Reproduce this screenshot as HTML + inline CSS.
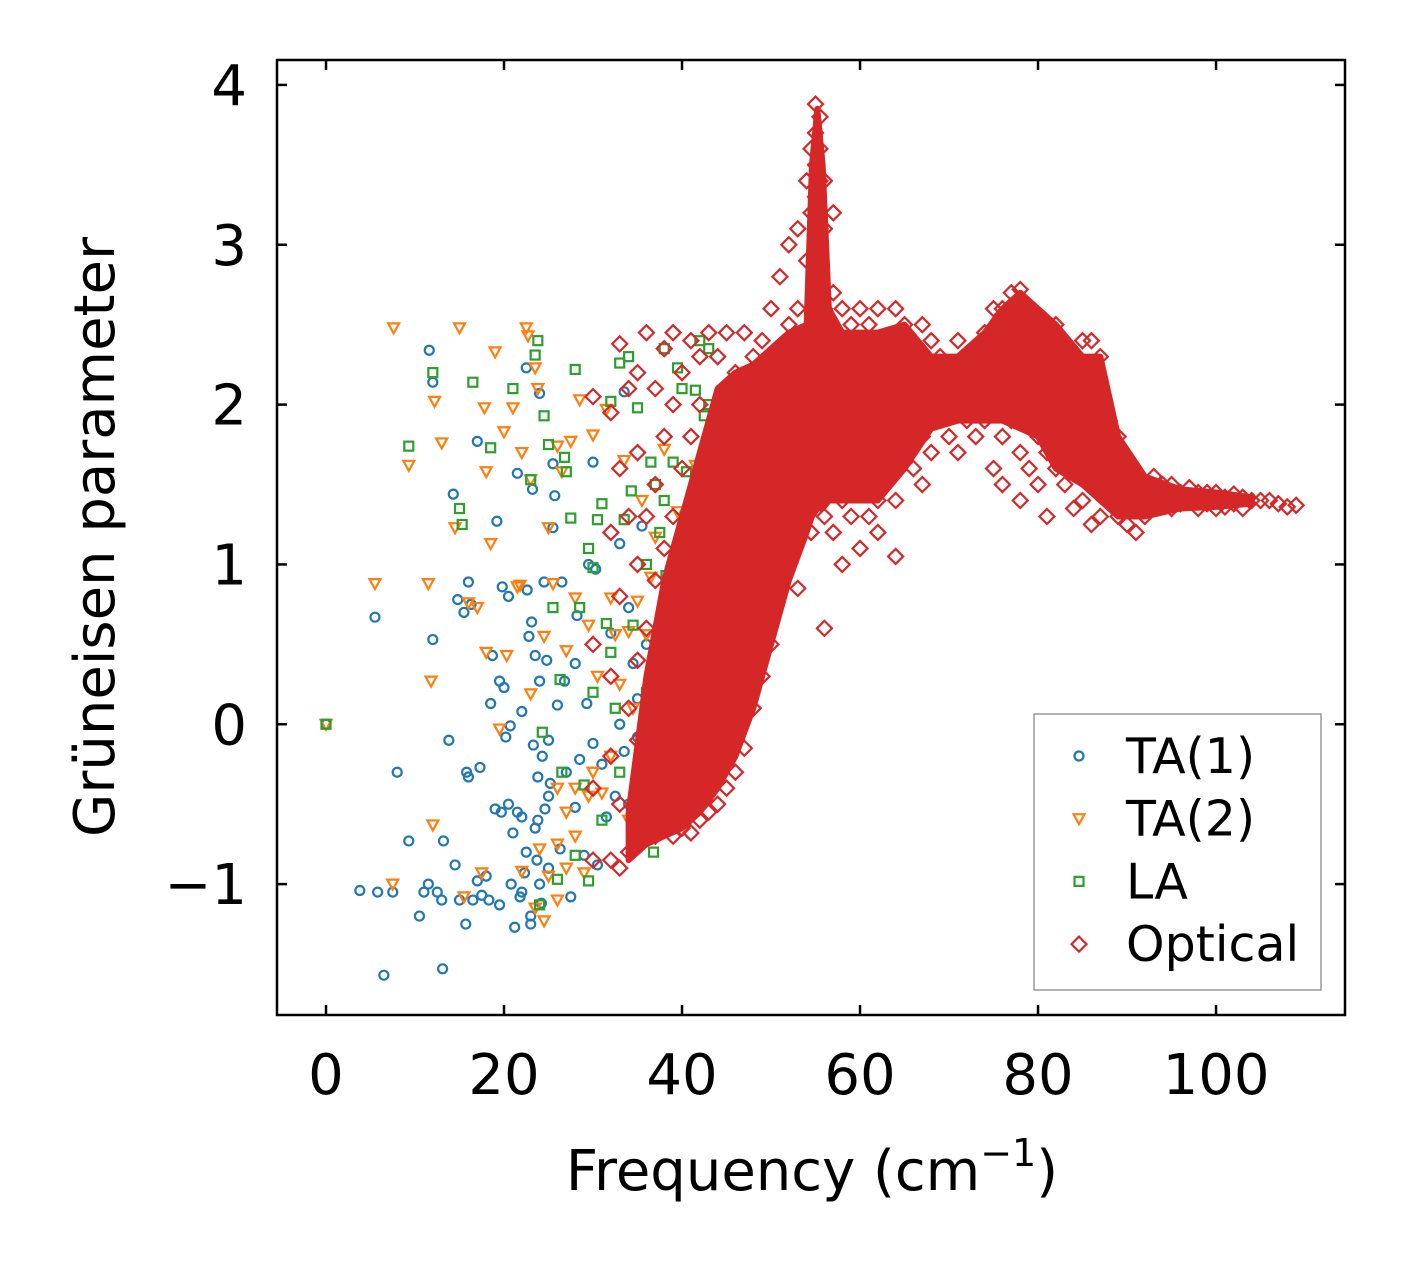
<!DOCTYPE html>
<html><head><meta charset="utf-8"><style>
html,body{margin:0;padding:0;background:#fff;}
svg{display:block;font-family:"DejaVu Sans","Liberation Sans",sans-serif;}
</style></head><body>
<svg id="chart" width="1406" height="1264" viewBox="0 0 1406 1264" xmlns="http://www.w3.org/2000/svg">
<rect width="1406" height="1264" fill="#fff"/>
<g id="marks"></g>
<rect x="277" y="60" width="1068" height="955" fill="none" stroke="#000" stroke-width="2.5"/>
<g id="axes"></g>
<text x="812" y="1190" font-size="56" text-anchor="middle">Frequency (cm<tspan font-size="38" dy="-24">−1</tspan><tspan dy="24">)</tspan></text>
<text transform="translate(114,537) rotate(-90)" font-size="56" text-anchor="middle">Grüneisen parameter</text>
<g>
<rect x="1034" y="714" width="287" height="276" fill="#fff" fill-opacity="0.8" stroke="#999" stroke-width="1.5"/>
<g id="legend-items"></g>
</g>
</svg>
<script>
const xTicks=[0,20,40,60,80,100];
const yTicks=[-1,0,1,2,3,4];
const yTickLabels=["−1","0","1","2","3","4"];
const seriesNames=["TA(1)","TA(2)","LA","Optical"];
const ta1=[[0,0],[3.8,-1.04],[5.8,-1.05],[6.5,-1.57],[5.5,0.67],[7.5,-1.05],[8,-0.3],[9.3,-0.73],[10.5,-1.2],[11,-1.05],[11.5,-1.0],[11.6,2.34],[12,2.14],[12,0.53],[12.5,-1.05],[13,-1.1],[13.1,-1.53],[13.2,-0.73],[13.8,-0.1],[14.3,1.44],[14.5,-0.88],[14.8,0.78],[15,-1.1],[15.5,0.7],[15.7,-1.25],[15.8,-0.3],[16,0.89],[16.3,0.75],[16,-0.33],[16.5,-1.1],[17,1.77],[17,-0.98],[17.3,-0.27],[17.5,-1.07],[18,-0.95],[18.3,-1.1],[18.5,0.13],[18.7,0.43],[19,-0.53],[19.2,1.27],[19.5,-1.13],[19.5,0.27],[19.7,-0.55],[19.8,0.86],[20,0.23],[20.2,-0.08],[20.5,0.8],[20.5,-0.5],[20.7,-0.01],[20.8,-1.0],[21,-0.68],[21.2,-1.27],[21.5,-0.55],[21.5,1.57],[21.8,-1.08],[22,-0.58],[22,0.08],[22.3,-0.93],[22.5,2.23],[22.6,0.84],[22.8,0.55],[23,-1.25],[23.1,0.64],[23.2,1.47],[23.3,-0.13],[23.5,-0.65],[23.5,0.43],[23.7,-0.85],[23.8,-0.33],[24,0.27],[24,2.07],[24.2,-1.12],[24.3,-0.2],[24.5,0.89],[24.6,-0.53],[24.8,0.4],[25,-0.1],[25.2,-0.37],[25.5,1.23],[25.5,1.63],[25.7,1.43],[26,0.12],[26.3,-0.78],[26.5,0.89],[26.8,0.27],[27,-0.3],[27.5,-1.08],[28,0.38],[28,-0.52],[28.2,0.68],[28.5,-0.22],[29,-0.82],[29.3,0.13],[29.5,1.0],[30,1.64],[30,-0.12],[30.3,0.97],[30.5,-0.88],[31,-0.25],[31.5,-0.58],[32,0.57],[32.5,-0.45],[33,1.13],[33,0.0],[33.5,-0.17],[33.5,2.08],[34,0.73],[34,-0.5],[34.5,0.38],[35,0.16],[35,-0.08],[35.5,1.24],[35.5,-0.57],[36,0.5],[36.5,-0.3],[37,-0.18],[37.5,0.0],[23,-1.2],[22,-1.05],[24,-1.0],[25,-0.9],[22.5,-0.8],[23.8,-0.6],[25,-0.45]];
const ta2=[[0,0],[7.6,2.48],[5.5,0.88],[7.5,-1.0],[9.3,1.62],[11.5,0.88],[11.8,0.27],[12,-0.63],[12.2,2.02],[13,1.76],[14.5,1.23],[15,2.48],[15.5,-1.08],[16,0.76],[17,0.73],[17.5,-0.93],[17.8,1.98],[18,1.58],[18,0.45],[18.5,1.13],[19,2.33],[19.5,-0.03],[20,1.83],[20.3,0.43],[21,1.98],[21.5,0.86],[21.8,0.87],[22,-0.92],[22,1.7],[22.5,2.48],[22.7,2.43],[23,1.53],[23,0.19],[23.5,2.23],[23.8,2.1],[24,-0.78],[24.5,0.55],[24.5,-1.23],[25,1.23],[25.5,0.88],[26,1.74],[26,-0.75],[26.5,1.58],[27,0.46],[27.5,1.77],[28,-0.4],[28,0.79],[28.5,2.03],[29,-0.93],[29.5,0.62],[30,1.81],[30.5,0.3],[31,-0.43],[31.5,1.97],[32,0.79],[32.5,0.56],[33,0.25],[33.5,1.65],[34,0.58],[34.5,0.1],[35,0.77],[35.5,1.4],[36,0.56],[36.5,0.92],[37,1.17],[37.5,0.35],[38,1.72],[38.5,0.69],[39,0.25],[39.5,1.33],[40,0.8],[41,0.2],[41.5,1.62],[42,0.62],[43,0.9],[26,-0.4],[27,-0.55],[29.5,-0.45],[25,-0.95],[23.5,-1.15],[30,-0.3],[32,-0.2],[34,-0.6],[28,-0.7],[27,-0.9],[26,-1.1]];
const la=[[0,0],[9.3,1.74],[12,2.2],[15,1.35],[15.3,1.25],[16.5,2.14],[18.5,1.73],[21,2.1],[23,1.53],[23.5,2.31],[23.8,2.4],[24.3,-0.05],[24.5,1.93],[25,1.75],[25.5,0.73],[26,-0.97],[26.3,0.28],[26.8,1.67],[27,1.58],[27.5,1.29],[28,2.22],[28.5,0.73],[29,-0.38],[29.5,1.1],[30,0.2],[30.5,1.28],[31,1.38],[31.5,0.63],[32,2.02],[32.5,0.1],[33,2.26],[33.5,1.28],[34,2.3],[34.3,1.46],[34.5,0.62],[35,1.98],[35.5,-0.45],[36,1.0],[36.5,1.64],[36.8,-0.8],[37,1.5],[37.5,1.2],[38,2.35],[38.2,0.93],[38.5,0.4],[39,1.64],[39.5,2.23],[39.8,0.6],[40,2.1],[40.5,1.58],[41,0.98],[41.5,2.09],[42,2.4],[42.5,1.93],[43,2.35],[43.5,0.6],[44,1.52],[42.5,0.75],[41,0.5],[39,0.78],[37,0.25],[35,-0.3],[33,-0.3],[31,-0.6],[28,-0.82],[26.5,-0.3],[24,-1.13],[29.5,-0.98],[32,0.45],[30,0.98],[40,1.2],[38,1.4],[36,0.2],[42,1.1],[43,2.0]];
const optical=[[30,[2.05,0.5,-0.4,-0.85]],[32,[1.95,1.2,0.3,-0.2,-0.85]],[33,[2.38,1.6,0.8,-0.5,-0.9]],[34,[2.1,1.3,0.1,-0.8]],[35,[2.2,1.7,1.0,0.4,-0.1,-0.75]],[36,[2.45,1.3,0.6,-0.55]],[37,[2.1,1.5,0.9,0.2,-0.3,-0.7]],[38,[2.35,1.8,1.1,0.55,-0.1,-0.45]],[39,[2.45,2.0,1.3,0.7,0.2,-0.35,-0.7]],[40,[2.2,1.6,1.0,0.4,-0.2,-0.65]],[41,[2.4,1.8,1.2,0.6,0.0,-0.4,-0.68]],[42,[2.3,2.0,1.5,0.9,0.3,-0.25,-0.6]],[43,[2.45,1.7,1.1,0.5,-0.05,-0.55]],[44,[2.3,1.9,1.3,0.8,0.2,-0.3,-0.5]],[45,[2.45,2.0,1.5,1.0,0.5,-0.1,-0.4]],[46,[2.2,1.7,1.2,0.7,0.15,-0.3]],[47,[2.45,1.9,1.4,0.9,0.3,-0.15]],[48,[2.3,1.8,1.1,0.6,0.1]],[49,[2.4,2.0,1.5,0.8,0.3]],[50,[2.6,2.1,1.6,1.0,0.5]],[51,[2.8,2.3,1.8,1.2,0.9]],[52,[3.0,2.5,2.0,1.5,1.0]],[53,[3.1,2.6,2.1,1.6,1.2,0.85]],[54,[3.4,2.9,2.3,1.8,1.4]],[54.5,[3.6,3.2,2.0,1.2]],[55,[3.88,3.7,3.5,3.3,2.7,2.2,1.9,1.6]],[55.5,[3.8,3.6,3.4,3.1,2.9]],[56,[3.4,3.1,2.6,2.1,1.7,1.3,0.6]],[57,[3.2,2.7,2.4,2.0,1.6,1.2]],[58,[2.6,2.2,1.8,1.4,1.0]],[59,[2.5,2.1,1.7,1.3]],[60,[2.6,2.3,1.9,1.5,1.1]],[61,[2.5,2.0,1.6,1.3]],[62,[2.6,2.2,1.8,1.4,1.2]],[63,[2.4,2.0,1.6]],[64,[2.6,2.2,1.7,1.4,1.05]],[65,[2.5,2.1,1.8]],[66,[2.35,2.0,1.6]],[67,[2.5,2.1,1.8,1.5]],[68,[2.4,2.0,1.7]],[69,[2.3,1.95]],[70,[2.2,1.8]],[71,[2.4,2.1,1.7]],[72,[2.2,1.9]],[73,[2.3,2.0,1.8]],[74,[2.45,2.2,1.9]],[75,[2.6,2.3,2.0,1.6]],[76,[2.6,2.4,2.1,1.8,1.5]],[77,[2.7,2.5,2.2,1.9]],[78,[2.72,2.4,2.1,1.7,1.4]],[79,[2.6,2.4,2.2,1.95,1.6]],[80,[2.55,2.35,2.1,1.8,1.5]],[81,[2.5,2.3,2.0,1.7,1.3]],[82,[2.5,2.2,1.9,1.6]],[83,[2.3,2.1,1.8,1.5]],[84,[2.25,1.9,1.6,1.35]],[85,[2.4,2.1,1.7,1.4]],[86,[2.4,2.2,1.9,1.5,1.25]],[87,[2.3,2.0,1.6,1.3]],[88,[1.9,1.7,1.4]],[89,[1.8,1.5,1.3]],[90,[1.6,1.4,1.25]],[91,[1.55,1.4,1.2]],[92,[1.5,1.4,1.3]],[93,[1.55,1.45,1.35]],[94,[1.5,1.4]],[95,[1.5,1.4,1.35]],[96,[1.45,1.38]],[97,[1.48,1.4]],[98,[1.45,1.35]],[99,[1.45,1.38]],[100,[1.45,1.35]],[101,[1.42,1.36]],[102,[1.44,1.38]],[103,[1.42,1.35]],[104,[1.4]],[105,[1.4]],[106,[1.4]],[107,[1.38]],[108,[1.36]],[109,[1.37]]];
// Dense (overlapping) optical core envelope
const opticalCoreX=[34,36,38,40,42,44,46,48,50,52,54,54.6,55.2,55.8,56.5,58,62,65,68,71,74,76,78,80,82,85,87,89,92,96,100,104];
const opticalCoreLow=[-0.85,-0.75,-0.7,-0.65,-0.55,-0.4,-0.2,0.1,0.5,0.9,1.2,1.3,1.35,1.35,1.4,1.4,1.4,1.6,1.85,1.9,1.9,1.9,1.85,1.8,1.6,1.5,1.4,1.3,1.3,1.35,1.36,1.38];
const opticalCoreHigh=[-0.55,0.3,0.9,1.3,1.7,2.1,2.2,2.25,2.35,2.45,2.5,3.5,3.85,3.5,2.6,2.45,2.45,2.5,2.3,2.3,2.45,2.6,2.7,2.6,2.5,2.3,2.3,1.8,1.55,1.47,1.45,1.42];

const NS="http://www.w3.org/2000/svg";
const X0=277,X1=1345,Y0=60,Y1=1015;
const xmin=-5.506,xmax=114.49,ymin=-1.819,ymax=4.156;
function sx(v){return X0+(v-xmin)/(xmax-xmin)*(X1-X0);}
function sy(v){return Y1-(v-ymin)/(ymax-ymin)*(Y1-Y0);}
const colors=["#1f77b4","#ff7f0e","#2ca02c","#d62728"];
function marker(kind,cx,cy){
  let el;
  if(kind===0){el=document.createElementNS(NS,"circle");el.setAttribute("cx",cx);el.setAttribute("cy",cy);el.setAttribute("r",4.5);}
  else if(kind===1){el=document.createElementNS(NS,"polygon");el.setAttribute("points",`${cx-5.5},${cy-4.5} ${cx+5.5},${cy-4.5} ${cx},${cy+5.5}`);}
  else if(kind===2){el=document.createElementNS(NS,"rect");el.setAttribute("x",cx-4.5);el.setAttribute("y",cy-4.5);el.setAttribute("width",9);el.setAttribute("height",9);}
  else {el=document.createElementNS(NS,"polygon");el.setAttribute("points",`${cx},${cy-7.5} ${cx+7.5},${cy} ${cx},${cy+7.5} ${cx-7.5},${cy}`);}
  el.setAttribute("fill","none");el.setAttribute("stroke",colors[kind]);el.setAttribute("stroke-width","2.2");
  return el;
}
const marks=document.getElementById("marks");
const groups=[ta1,ta2,la];
const gnames=["ta1-series","ta2-series","la-series","optical-series"];
const gEls=gnames.map(n=>{const g=document.createElementNS(NS,"g");


return g;});
[0,1,2].forEach(k=>{groups[k].forEach(p=>{const m=marker(k,sx(p[0]),sy(p[1]));


gEls[k].appendChild(m);});});
let pts=[];
opticalCoreX.forEach((x,i)=>pts.push(sx(x)+","+sy(opticalCoreHigh[i])));
for(let i=opticalCoreX.length-1;i>=0;i--)pts.push(sx(opticalCoreX[i])+","+sy(opticalCoreLow[i]));
const core=document.createElementNS(NS,"polygon");
core.setAttribute("points",pts.join(" "));
core.setAttribute("fill","#d62728");core.setAttribute("stroke","#d62728");core.setAttribute("stroke-width","6");core.setAttribute("stroke-linejoin","round");


gEls[3].appendChild(core);
optical.forEach(c=>{c[1].forEach(y=>{const m=marker(3,sx(c[0]),sy(y));


gEls[3].appendChild(m);});});
gEls.forEach(g=>marks.appendChild(g));

const axes=document.getElementById("axes");
function line(x1,y1,x2,y2){const l=document.createElementNS(NS,"line");l.setAttribute("x1",x1);l.setAttribute("y1",y1);l.setAttribute("x2",x2);l.setAttribute("y2",y2);l.setAttribute("stroke","#000");l.setAttribute("stroke-width","2.5");


axes.appendChild(l);}
function text(x,y,s,anchor,name){const t=document.createElementNS(NS,"text");t.setAttribute("x",x);t.setAttribute("y",y);t.setAttribute("font-size","56");t.setAttribute("text-anchor",anchor);t.textContent=s;


axes.appendChild(t);}
xTicks.forEach(v=>{const x=sx(v);line(x,Y1,x,Y1-10);line(x,Y0,x,Y0+10);text(x,1094,String(v),"middle","x-tick-label");});
yTicks.forEach((v,i)=>{const y=sy(v);line(X0,y,X0+10,y);line(X1,y,X1-10,y);text(247,y+20,yTickLabels[i],"end","y-tick-label");});

const li=document.getElementById("legend-items");
seriesNames.forEach((n,k)=>{const y=756+k*62.7;const m=marker(k,1079,y);


li.appendChild(m);
const t=document.createElementNS(NS,"text");t.setAttribute("x",1126);t.setAttribute("y",y+17);t.setAttribute("font-size","49");t.textContent=n;


li.appendChild(t);});
</script>
</body></html>
